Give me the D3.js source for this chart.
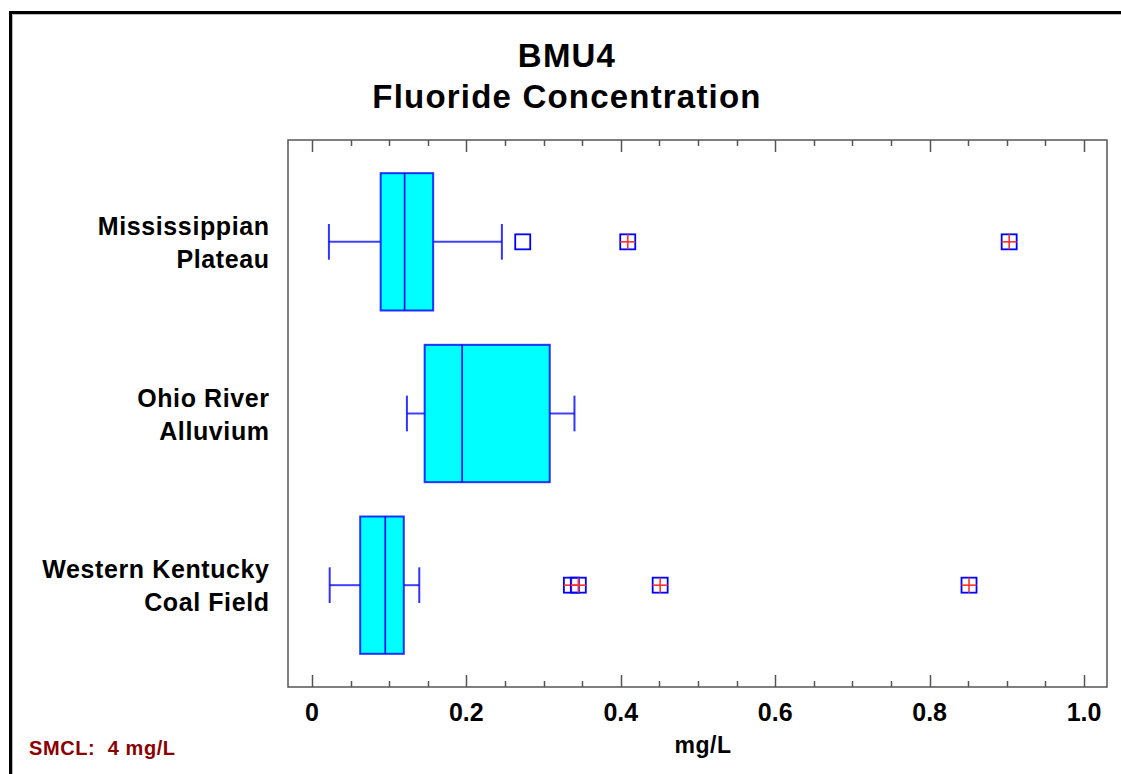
<!DOCTYPE html>
<html>
<head>
<meta charset="utf-8">
<script src="https://cdn.jsdelivr.net/npm/d3@7"></script>
<style>
body{margin:0;background:#fff;}
svg{display:block;font-family:"Liberation Sans",Arial,sans-serif;}
</style>
</head>
<body>
<svg id="chart" width="1121" height="774"></svg>
<script>
const categories = ["Mississippian Plateau", "Ohio River Alluvium", "Western Kentucky Coal Field"];
const labelLines = [["Mississippian", "Plateau"], ["Ohio River", "Alluvium"], ["Western Kentucky", "Coal Field"]];
const whiskerLow = [0.022, 0.123, 0.023];
const q1 = [0.089, 0.146, 0.0625];
const median = [0.120, 0.1945, 0.095];
const q3 = [0.157, 0.308, 0.119];
const whiskerHigh = [0.246, 0.340, 0.139];
const outsideValues = [[0.273], [], []];
const farOutValues = [[0.409, 0.903], [], [0.336, 0.345, 0.451, 0.851]];
const xTicks = [0, 0.2, 0.4, 0.6, 0.8, 1.0];
const xTickLabels = ["0", "0.2", "0.4", "0.6", "0.8", "1.0"];
const xMinorTicks = d3.range(0, 21).map(i => i * 0.05);

const svg = d3.select("#chart");
const plot = {left: 288, right: 1107, top: 140, bottom: 687};

// outer frame
svg.append("rect").attr("x", 10.5).attr("y", 12.5).attr("width", 1130).attr("height", 800)
  .attr("fill", "none").attr("stroke", "#000").attr("stroke-width", 3);
svg.append("line").attr("x1", 12.5).attr("x2", 1121).attr("y1", 14.5).attr("y2", 14.5).attr("stroke", "#bbb").attr("stroke-width", 1);
svg.append("line").attr("x1", 12.5).attr("x2", 12.5).attr("y1", 14.5).attr("y2", 774).attr("stroke", "#bbb").attr("stroke-width", 1);

const x = d3.scaleLinear().domain([-0.031, 1.0297]).range([plot.left, plot.right]);
const y = d3.scaleBand().domain(categories).range([156, 671]).paddingInner(0.2).paddingOuter(0.1);

// Title
const title = svg.append("text").attr("text-anchor", "middle").attr("font-weight", "bold")
  .attr("font-size", 33).attr("letter-spacing", 1.2).attr("fill", "#000");
title.append("tspan").attr("x", 567).attr("y", 67).text("BMU4");
title.append("tspan").attr("x", 567).attr("y", 108).text("Fluoride Concentration");

// ticks (top and bottom, pointing inward)
const tickG = svg.append("g").attr("stroke", "#555").attr("stroke-width", 1.5);
xMinorTicks.forEach((v, i) => {
  const major = i % 4 === 0;
  const len = major ? 12 : 6;
  const xp = Math.round(x(v)) + 0.5;
  tickG.append("line").attr("x1", xp).attr("x2", xp).attr("y1", plot.bottom).attr("y2", plot.bottom - len);
  tickG.append("line").attr("x1", xp).attr("x2", xp).attr("y1", plot.top).attr("y2", plot.top + len);
});

// plot frame
svg.append("rect").attr("x", plot.left).attr("y", plot.top)
  .attr("width", plot.right - plot.left).attr("height", plot.bottom - plot.top)
  .attr("fill", "none").attr("stroke", "#555").attr("stroke-width", 1.5);

// x tick labels
svg.append("g").selectAll("text").data(xTicks).join("text")
  .attr("x", d => x(d)).attr("y", 721).attr("text-anchor", "middle")
  .attr("font-weight", "bold").attr("font-size", 25).attr("fill", "#000")
  .text((d, i) => xTickLabels[i]);

// x axis title
svg.append("text").attr("x", 703).attr("y", 753).attr("text-anchor", "middle")
  .attr("font-weight", "bold").attr("font-size", 23).attr("letter-spacing", 0.5).attr("fill", "#000").text("mg/L");

// SMCL note
svg.append("text").attr("x", 29).attr("y", 755).attr("font-weight", "bold")
  .attr("font-size", 20).attr("letter-spacing", 0.6).attr("fill", "#8b0000").attr("xml:space", "preserve").text("SMCL:  4 mg/L");

// category labels
categories.forEach((c, i) => {
  const cy = y(c) + y.bandwidth() / 2;
  const t = svg.append("text").attr("text-anchor", "end").attr("font-weight", "bold")
    .attr("font-size", 25).attr("letter-spacing", 0.6).attr("fill", "#000");
  labelLines[i].forEach((line, j) => {
    t.append("tspan").attr("x", 269.6).attr("y", cy - 7 + j * 33).text(line);
  });
});

// boxes
const blue = "#0000ff";
categories.forEach((c, i) => {
  const top = y(c), bw = y.bandwidth(), cy = top + bw / 2;
  const capH = bw * 0.26;
  const g = svg.append("g");
  // whiskers
  g.append("line").attr("x1", x(whiskerLow[i])).attr("x2", x(q1[i])).attr("y1", cy).attr("y2", cy)
    .attr("stroke", blue).attr("stroke-width", 2).attr("stroke-opacity", 0.75);
  g.append("line").attr("x1", x(q3[i])).attr("x2", x(whiskerHigh[i])).attr("y1", cy).attr("y2", cy)
    .attr("stroke", blue).attr("stroke-width", 2).attr("stroke-opacity", 0.75);
  [whiskerLow[i], whiskerHigh[i]].forEach(v => {
    g.append("line").attr("x1", x(v)).attr("x2", x(v)).attr("y1", cy - capH / 2).attr("y2", cy + capH / 2)
      .attr("stroke", blue).attr("stroke-width", 2).attr("stroke-opacity", 0.8);
  });
  // box
  g.append("rect").attr("x", x(q1[i])).attr("y", top).attr("width", x(q3[i]) - x(q1[i])).attr("height", bw)
    .attr("fill", "#00ffff").attr("stroke", blue).attr("stroke-width", 2).attr("stroke-opacity", 0.8);
  // median
  g.append("line").attr("x1", x(median[i])).attr("x2", x(median[i])).attr("y1", top).attr("y2", top + bw)
    .attr("stroke", blue).attr("stroke-width", 1.6);
  // outliers
  const s = 15;
  outsideValues[i].forEach(v => {
    g.append("rect").attr("x", x(v) - s / 2).attr("y", cy - s / 2).attr("width", s).attr("height", s)
      .attr("fill", "none").attr("stroke", blue).attr("stroke-width", 1.8);
  });
  farOutValues[i].forEach(v => {
    g.append("rect").attr("x", x(v) - s / 2).attr("y", cy - s / 2).attr("width", s).attr("height", s)
      .attr("fill", "none").attr("stroke", blue).attr("stroke-width", 1.8);
    g.append("line").attr("x1", x(v) - s / 2).attr("x2", x(v) + s / 2).attr("y1", cy).attr("y2", cy)
      .attr("stroke", "#ff3030").attr("stroke-width", 1.6);
    g.append("line").attr("x1", x(v)).attr("x2", x(v)).attr("y1", cy - s / 2).attr("y2", cy + s / 2)
      .attr("stroke", "#ff3030").attr("stroke-width", 1.6);
  });
});
</script>
</body>
</html>
